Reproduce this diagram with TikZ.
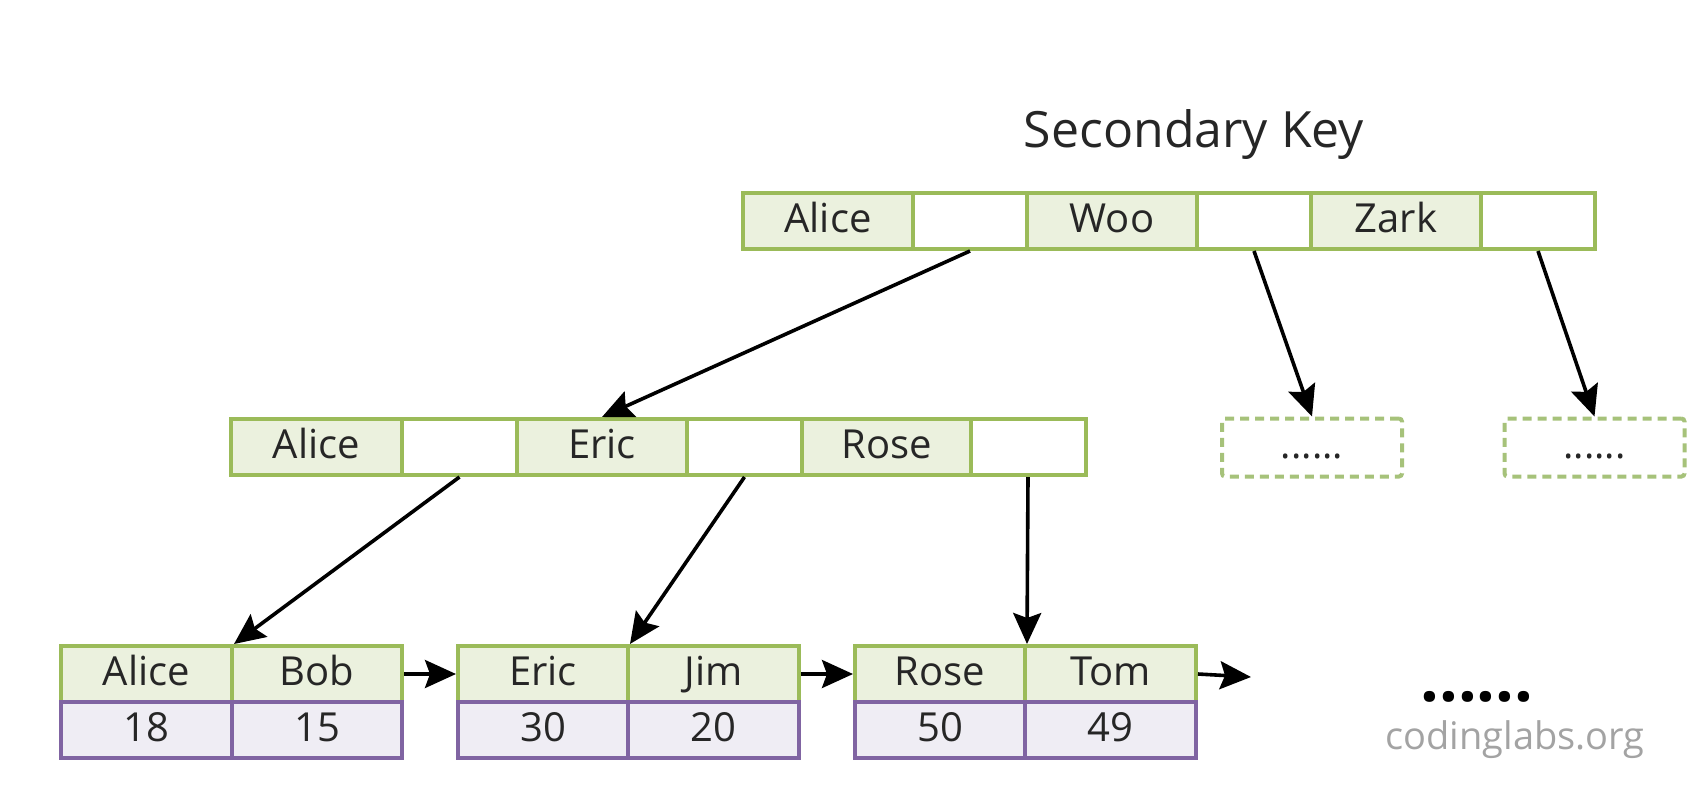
\documentclass[tikz,border=0pt]{standalone}
\usepackage{fontspec}
\setmainfont{Open Sans}
\usetikzlibrary{arrows.meta}
\definecolor{gborder}{HTML}{9BBB59}
\definecolor{gfill}{HTML}{EBF1DE}
\definecolor{pborder}{HTML}{8064A2}
\definecolor{pfill}{HTML}{EFEDF4}
\definecolor{txt}{HTML}{262626}
\definecolor{dashg}{HTML}{A6C27A}
\definecolor{wm}{HTML}{A3A3A3}
\begin{document}
\begin{tikzpicture}[x=1pt,y=-1pt,
  cell/.style={draw=gborder, line width=4pt, minimum height=56pt, inner sep=0pt,
    text=txt, font=\fontsize{40}{48}\selectfont, text height=22pt, text depth=0pt},
  keycell/.style={cell, fill=gfill, minimum width=170pt},
  ptrcell/.style={cell, fill=white, minimum width=115pt},
  valcell/.style={cell, draw=pborder, fill=pfill, minimum width=170pt},
  dashbox/.style={draw=dashg, line width=4pt, dash pattern=on 9pt off 6pt,
    rounded corners=3pt, minimum width=180pt, minimum height=58pt, inner sep=0pt,
    text=txt, font=\fontsize{39}{48}\selectfont, text height=22pt, text depth=0pt},
  arr/.style={draw=black, line width=3.6pt, -{Stealth[length=31pt,width=28pt,inset=5pt]}},
]
\useasboundingbox (0,0) rectangle (1706,788);

% title
\node[anchor=base, text=txt, font=\fontsize{50}{60}\selectfont, inner sep=0pt] (title) at (1194,147) {Secondary Key};

% root node
\node[keycell] (ta) at (828,221) {Alice};
\node[ptrcell, minimum width=114pt] (tp1) at (970,221) {};
\node[keycell] (tb) at (1112,221) {Woo};
\node[ptrcell, minimum width=114pt] (tp2) at (1254,221) {};
\node[keycell] (tc) at (1396,221) {Zark};
\node[ptrcell, minimum width=114pt] (tp3) at (1538,221) {};

% middle node
\node[keycell, minimum width=171pt] (ma) at (316.5,447) {Alice};
\node[ptrcell] (mp1) at (459.5,447) {};
\node[keycell] (mb) at (602,447) {Eric};
\node[ptrcell] (mp2) at (744.5,447) {};
\node[keycell, minimum width=169pt] (mc) at (886.5,447) {Rose};
\node[ptrcell] (mp3) at (1028,447) {};

% dashed nodes
\node[dashbox] (d1) at (1312,447.5) {......};
\node[dashbox] (d2) at (1594.5,447.5) {......};

% leaves: keys
\node[keycell, minimum width=171pt] (l1a) at (146.5,674) {Alice};
\node[keycell] (l1b) at (317,674) {Bob};
\node[keycell] (l2a) at (543,674) {Eric};
\node[keycell, minimum width=171pt] (l2b) at (713.5,674) {Jim};
\node[keycell] (l3a) at (940,674) {Rose};
\node[keycell, minimum width=171pt] (l3b) at (1110.5,674) {Tom};
% leaves: values
\node[valcell, minimum width=171pt] (v1a) at (146.5,730) {18};
\node[valcell] (v1b) at (317,730) {15};
\node[valcell] (v2a) at (543,730) {30};
\node[valcell, minimum width=171pt] (v2b) at (713.5,730) {20};
\node[valcell] (v3a) at (940,730) {50};
\node[valcell, minimum width=171pt] (v3b) at (1110.5,730) {49};

% more leaves and watermark
\node[anchor=center, text=black, font=\bfseries\fontsize{66}{80}\selectfont, inner sep=0pt, text height=22pt, text depth=0pt] (more) at (1477,690) {......};
\node[anchor=base, text=wm, font=\fontsize{38}{44}\selectfont, inner sep=0pt] (wmark) at (1515,749) {codinglabs.org};

\coordinate (lend) at (1251,677);

% connectors
\draw[arr] (tp1.south) -- (mb.north);
\draw[arr] (tp2.south) -- (d1.north);
\draw[arr] (tp3.south) -- (d2.north);
\draw[arr] (mp1.south) -- (l1a.north east);
\draw[arr] (mp2.south) -- (l2a.north east);
\draw[arr] (mp3.south) -- (l3a.north east);
\draw[arr] (l1b.east) -- (l2a.west);
\draw[arr] (l2b.east) -- (l3a.west);
\draw[arr] (l3b.east) -- (lend);
\end{tikzpicture}
\end{document}
